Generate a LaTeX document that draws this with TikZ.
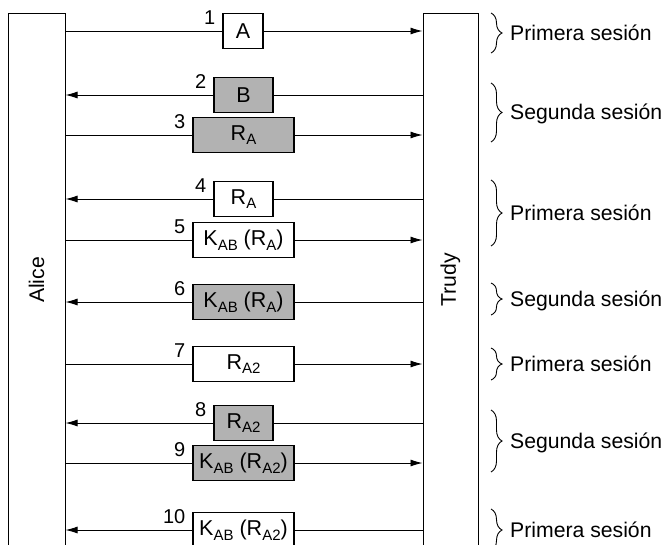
\documentclass[tikz,border=0pt]{standalone}
\usepackage{fontspec}
\setmainfont{Liberation Sans}
\usetikzlibrary{arrows.meta,decorations.pathreplacing}
\newcommand\sbs[1]{\raisebox{-4.5pt}{\fontsize{15}{16}\selectfont #1}}
\begin{document}
\begin{tikzpicture}[x=1pt,y=-1pt,
  life/.style={draw, line width=1pt, minimum height=534pt, inner sep=0pt},
  msg/.style={draw, line width=1.1pt, fill=white, minimum height=35pt, inner sep=0pt,
              font=\fontsize{21.5}{24}\selectfont},
  narrowbox/.style={msg, minimum width=59pt},
  widebox/.style={msg, minimum width=101pt},
  tinybox/.style={msg, minimum width=40pt},
  shaded/.style={fill=black!30},
  num/.style={font=\fontsize{20}{22}\selectfont, anchor=base east, inner sep=0pt},
  side/.style={font=\fontsize{21.2}{24}\selectfont, anchor=base west, inner sep=0pt},
  vlabel/.style={font=\fontsize{21.2}{24}\selectfont, rotate=90, inner sep=0pt},
  ln/.style={line width=0.9pt},
  arr/.style={line width=0.9pt, -{Latex[length=12pt,width=7pt]}},
  br/.style={decorate, decoration={brace, amplitude=11pt}, line width=0.9pt}
]
\useasboundingbox (0,0) rectangle (666,544);
\clip (0,0) rectangle (666,544);

% lifelines
\node[life, minimum width=57pt] (alice) at (36.5,280) {};
\node[life, minimum width=55pt] (trudy) at (450.5,280) {};
\node[vlabel] (alicet) at (alice.center) {Alice};
\node[vlabel] (trudyt) at (trudy.center) {Trudy};

% messages
\node[tinybox]          (m1)  at (243,31)    {A};
\node[narrowbox,shaded] (m2)  at (243.5,95)  {B};
\node[widebox,shaded]   (m3)  at (243.5,135) {R\sbs{A}};
\node[narrowbox]        (m4)  at (243.5,199) {R\sbs{A}};
\node[widebox]          (m5)  at (243.5,240) {K\sbs{AB} (R\sbs{A})};
\node[widebox,shaded]   (m6)  at (243.5,302) {K\sbs{AB} (R\sbs{A})};
\node[widebox]          (m7)  at (243.5,364) {R\sbs{A2}};
\node[narrowbox,shaded] (m8)  at (243.5,423) {R\sbs{A2}};
\node[widebox,shaded]   (m9)  at (243.5,463) {K\sbs{AB} (R\sbs{A2})};
\node[widebox]          (m10) at (243.5,530) {K\sbs{AB} (R\sbs{A2})};

% numbers
\foreach \i in {1,...,10}
  \node[num] (n\i) at ([xshift=-7pt,yshift=7pt]m\i.west) {\i};

% connectors: Alice -> Trudy
\foreach \i in {1,3,5,7,9}{
  \draw[ln]  (alice.east |- m\i.west) -- (m\i.west);
  \draw[arr] (m\i.east) -- (trudy.west |- m\i.east);
}
% connectors: Trudy -> Alice
\foreach \i in {2,4,6,8,10}{
  \draw[ln]  (trudy.west |- m\i.east) -- (m\i.east);
  \draw[arr] (m\i.west) -- (alice.east |- m\i.west);
}

% session braces
\draw[br] (491,13)  -- (491,53);
\draw[br] (491,83)  -- (491,142);
\draw[br] (491,180) -- (491,246);
\draw[br] (491,283) -- (491,315);
\draw[br] (491,348) -- (491,380);
\draw[br] (491,410) -- (491,472);
\draw[br] (491,509) -- (491,551);
\node[side] (s1) at (510,40.5)  {Primera sesión};
\node[side] (s2) at (510,119.5) {Segunda sesión};
\node[side] (s3) at (510,220.5) {Primera sesión};
\node[side] (s4) at (510,306.5) {Segunda sesión};
\node[side] (s5) at (510,371.5) {Primera sesión};
\node[side] (s6) at (510,448)   {Segunda sesión};
\node[side] (s7) at (510,537.5) {Primera sesión};
\end{tikzpicture}
\end{document}
